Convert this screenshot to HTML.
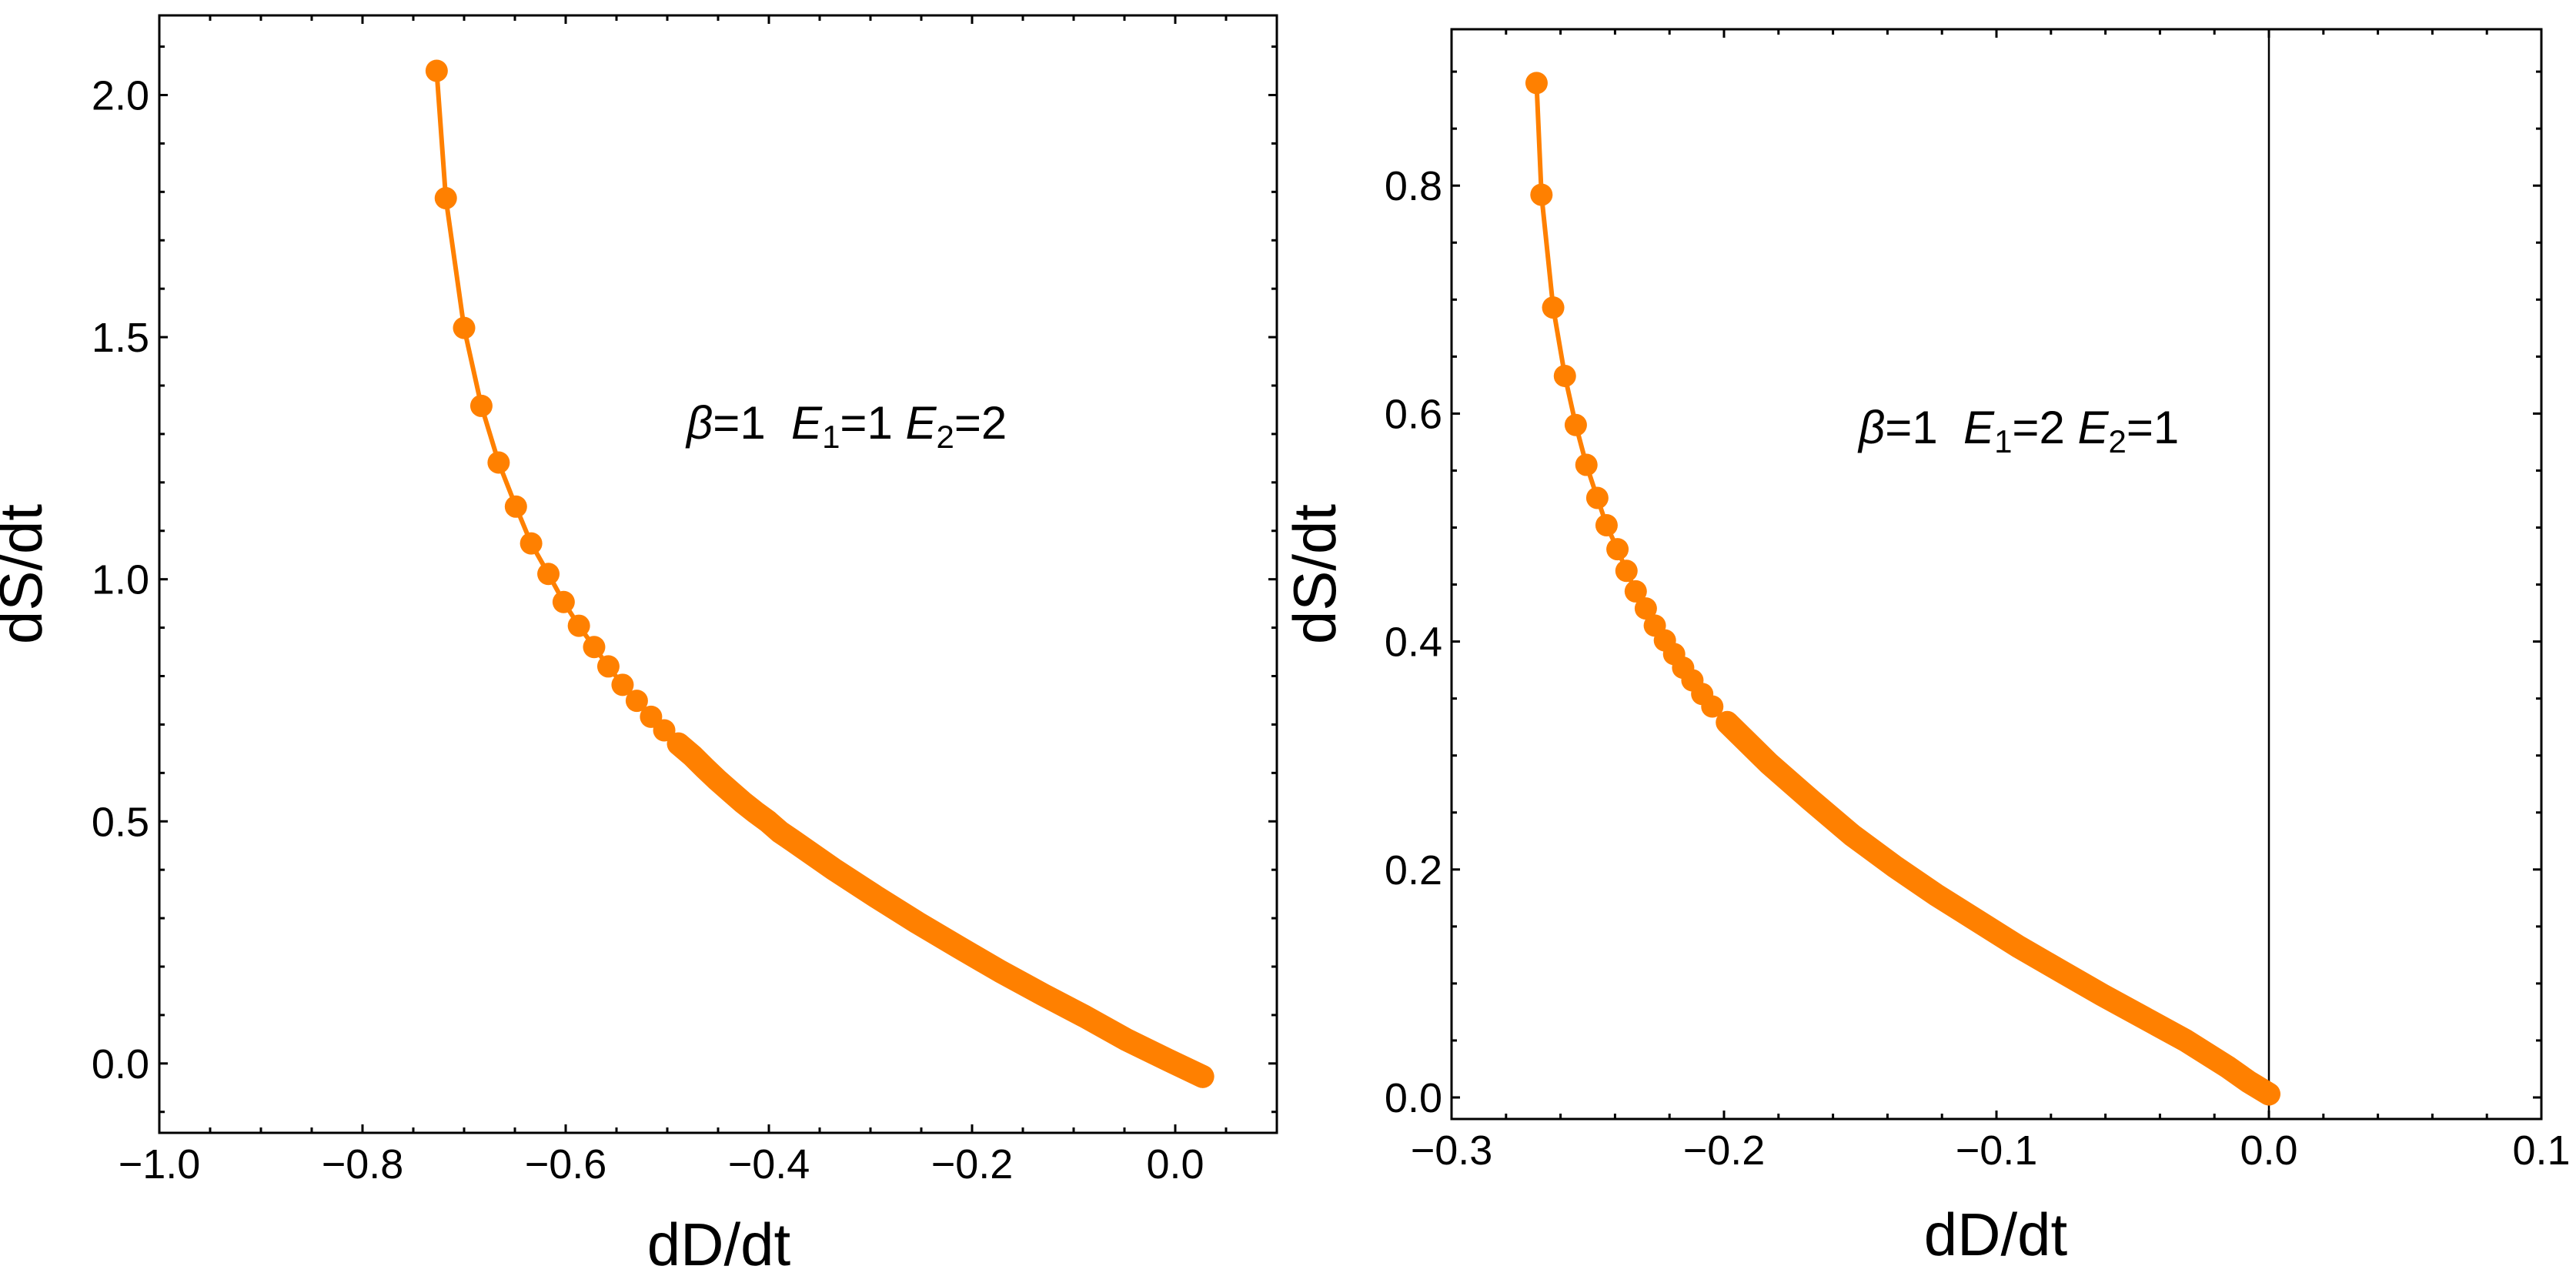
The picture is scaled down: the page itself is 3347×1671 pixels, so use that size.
<!DOCTYPE html>
<html><head><meta charset="utf-8"><style>
html,body{margin:0;padding:0;background:#fff;}
svg{display:block;font-family:"Liberation Sans",sans-serif;}
</style></head><body>
<svg id="chart" width="3347" height="1671" viewBox="0 0 3347 1671" xmlns="http://www.w3.org/2000/svg"></svg>
<script>
// Left panel data (beta=1, E1=1, E2=2)
const leftX = [-0.727,-0.718,-0.700,-0.683,-0.666,-0.649,-0.634,-0.617,-0.602,-0.587,-0.572,-0.558,-0.544,-0.530,-0.516,-0.503,-0.489,-0.475,-0.463,-0.451,-0.438,-0.426,-0.414,-0.401,-0.389,-0.377,-0.336,-0.295,-0.254,-0.213,-0.172,-0.130,-0.089,-0.048,-0.007,0.027];
const leftY = [2.05,1.787,1.519,1.358,1.241,1.150,1.074,1.011,0.953,0.904,0.860,0.820,0.782,0.749,0.716,0.688,0.660,0.635,0.610,0.586,0.562,0.540,0.520,0.500,0.478,0.461,0.401,0.345,0.291,0.240,0.190,0.142,0.097,0.049,0.007,-0.027];
const leftXTicks = [-1.0,-0.8,-0.6,-0.4,-0.2,0.0];
const leftXTickLabels = ["\u22121.0","\u22120.8","\u22120.6","\u22120.4","\u22120.2","0.0"];
const leftYTicks = [0.0,0.5,1.0,1.5,2.0];
const leftYTickLabels = ["0.0","0.5","1.0","1.5","2.0"];
// Right panel data (beta=1, E1=2, E2=1)
const rightX = [-0.2688,-0.2670,-0.2627,-0.2584,-0.2544,-0.2505,-0.2465,-0.2431,-0.2391,-0.2358,-0.2324,-0.2287,-0.2254,-0.2217,-0.2183,-0.2150,-0.2116,-0.2080,-0.2043,-0.1988,-0.1835,-0.1682,-0.1529,-0.1376,-0.1223,-0.1070,-0.0917,-0.0765,-0.0612,-0.0459,-0.0306,-0.0153,-0.0076,0.0];
const rightY = [0.890,0.792,0.693,0.633,0.590,0.555,0.526,0.502,0.481,0.462,0.444,0.429,0.414,0.401,0.389,0.377,0.366,0.354,0.343,0.329,0.293,0.261,0.230,0.203,0.178,0.155,0.132,0.111,0.090,0.070,0.050,0.027,0.014,0.003];
const rightXTicks = [-0.3,-0.2,-0.1,0.0,0.1];
const rightXTickLabels = ["\u22120.3","\u22120.2","\u22120.1","0.0","0.1"];
const rightYTicks = [0.0,0.2,0.4,0.6,0.8];
const rightYTickLabels = ["0.0","0.2","0.4","0.6","0.8"];

const NS="http://www.w3.org/2000/svg";
const svg=document.getElementById('chart');
const ORANGE="#ff8000";
function mk(tag,attrs,parent){const e=document.createElementNS(NS,tag);for(const k in attrs)e.setAttribute(k,attrs[k]);(parent||svg).appendChild(e);return e;}

function panel(cfg){
  const g=mk('g',{});
  
  
  const sx=v=>cfg.L+(v-cfg.x0)/(cfg.x1-cfg.x0)*(cfg.R-cfg.L);
  const sy=v=>cfg.B-(v-cfg.y0)/(cfg.y1-cfg.y0)*(cfg.B-cfg.T);
  const tg=mk('g',{stroke:'#000','stroke-width':3},g);
  
  
  const nx=Math.round((cfg.x1-cfg.x0)/cfg.xMinor);
  for(let i=0;i<=nx;i++){const v=cfg.x0+i*cfg.xMinor;const x=sx(v);
    const major=Math.abs(v/cfg.xMajor-Math.round(v/cfg.xMajor))<1e-6;const len=major?11:7;
    mk('line',{x1:x,y1:cfg.B,x2:x,y2:cfg.B-len},tg);mk('line',{x1:x,y1:cfg.T,x2:x,y2:cfg.T+len},tg);}
  const ys=Math.ceil(cfg.y0/cfg.yMinor-1e-9);
  for(let i=ys;i*cfg.yMinor<=cfg.y1;i++){const v=i*cfg.yMinor;const y=sy(v);
    const major=Math.abs(v/cfg.yMajor-Math.round(v/cfg.yMajor))<1e-6;const len=major?11:7;
    mk('line',{x1:cfg.L,y1:y,x2:cfg.L+len,y2:y},tg);mk('line',{x1:cfg.R,y1:y,x2:cfg.R-len,y2:y},tg);}
  if(cfg.zeroLine){const zl=mk('line',{x1:sx(0),y1:cfg.T,x2:sx(0),y2:cfg.B,stroke:'#000','stroke-width':2.5},g);
    }
  const pts=cfg.xs.map((v,i)=>sx(v)+','+sy(cfg.ys[i])).join(' ');
  const line=mk('polyline',{points:pts,fill:'none',stroke:ORANGE,'stroke-width':6,'stroke-linejoin':'round'},g);
  
  const band=mk('polyline',{points:cfg.xs.slice(cfg.denseFrom).map((v,i)=>sx(v)+','+sy(cfg.ys[i+cfg.denseFrom])).join(' '),fill:'none',stroke:ORANGE,'stroke-width':30,'stroke-linejoin':'round','stroke-linecap':'round'},g);
  
  cfg.xs.forEach((v,i)=>{const c=mk('circle',{cx:sx(v),cy:sy(cfg.ys[i]),r:14.5,fill:ORANGE},g);
    });
  const fr=mk('rect',{x:cfg.L,y:cfg.T,width:cfg.R-cfg.L,height:cfg.B-cfg.T,fill:'none',stroke:'#000','stroke-width':3},g);
  
  cfg.xTicks.forEach((v,i)=>{const t=mk('text',{x:sx(v),y:cfg.B+59,'font-size':54,'text-anchor':'middle'},g);t.textContent=cfg.xLabels[i];
    });
  cfg.yTicks.forEach((v,i)=>{const t=mk('text',{x:cfg.yLabelX,y:sy(v)+19,'font-size':54,'text-anchor':'end'},g);t.textContent=cfg.yLabels[i];
    });
  const xt=mk('text',{x:cfg.xTitleX,y:cfg.xTitleY,'font-size':78,'text-anchor':'middle'},g);xt.textContent='dD/dt';
  
  const yt=mk('text',{x:0,y:0,'font-size':78,'text-anchor':'middle',transform:`translate(${cfg.yTitleX+28},746) rotate(-90)`},g);yt.textContent='dS/dt';
  
  const an=mk('text',{x:cfg.annX,y:cfg.annY,'font-size':60},g);
  
  an.innerHTML=`<tspan font-style="italic">β</tspan>=1  <tspan font-style="italic">E</tspan><tspan font-size="42" dy="12">1</tspan><tspan dy="-12">=${cfg.e1} </tspan><tspan font-style="italic">E</tspan><tspan font-size="42" dy="12">2</tspan><tspan dy="-12">=${cfg.e2}</tspan>`;
  an.setAttribute('xml:space','preserve');an.style.whiteSpace='pre';
}

panel({name:'left-panel',L:207,R:1659,T:20,B:1472,x0:-1.0,x1:0.1,y0:-0.1433,y1:2.1645,
  xMinor:0.05,xMajor:0.2,yMinor:0.1,yMajor:0.5,xs:leftX,ys:leftY,denseFrom:16,
  xTicks:leftXTicks,xLabels:leftXTickLabels,yTicks:leftYTicks,yLabels:leftYTickLabels,yLabelX:194,
  xTitleX:934,xTitleY:1644,yTitleX:26,annX:892,annY:570,e1:1,e2:2,zeroLine:false});
panel({name:'right-panel',L:1886,R:3302,T:38,B:1454,x0:-0.3,x1:0.1,y0:-0.0189,y1:0.9372,
  xMinor:0.02,xMajor:0.1,yMinor:0.05,yMajor:0.2,xs:rightX,ys:rightY,denseFrom:19,
  xTicks:rightXTicks,xLabels:rightXTickLabels,yTicks:rightYTicks,yLabels:rightYTickLabels,yLabelX:1874,
  xTitleX:2593,xTitleY:1631,yTitleX:1707,annX:2415,annY:576,e1:2,e2:1,zeroLine:true});
</script>
</body></html>
